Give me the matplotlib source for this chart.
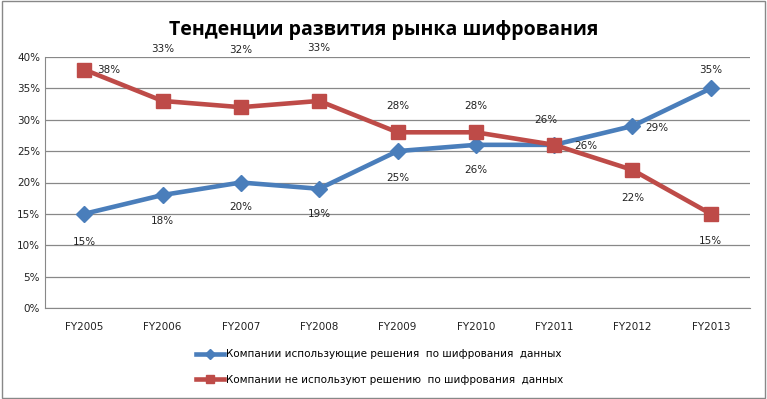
import matplotlib
matplotlib.use('Agg')
import matplotlib.pyplot as plt
from matplotlib.ticker import PercentFormatter

# Data
years = ['FY2005', 'FY2006', 'FY2007', 'FY2008', 'FY2009',
         'FY2010', 'FY2011', 'FY2012', 'FY2013']
using = [15, 18, 20, 19, 25, 26, 26, 29, 35]
not_using = [38, 33, 32, 33, 28, 28, 26, 22, 15]

label_using = 'Компании использующие решения  по шифрования  данных'
label_not = 'Компании не используют решению  по шифрования  данных'
title = 'Тенденции развития рынка шифрования'

# label offsets in pixels (dx, dy)
off_using = [(0, -28), (0, -26), (0, -24), (0, -25), (0, -27),
             (0, -25), (32, -1), (24, -2), (0, 18)]
off_not = [(25, 0), (0, 52), (0, 57), (0, 53), (0, 26),
           (0, 26), (-8, 25), (0, -28), (0, -27)]

blue = '#4A7EBB'
red = '#BE4B48'

plt.rcParams['font.family'] = ['DejaVu Sans']

fig = plt.figure(figsize=(7.67, 3.99), dpi=100)
ax = fig.add_axes([45 / 767, 1 - 308 / 399, 705 / 767, 251 / 399])

x = list(range(len(years)))
ax.plot(x, using, color=blue, lw=3.3, marker='D', ms=8,
        markeredgecolor=blue, label=label_using, zorder=3)
ax.plot(x, not_using, color=red, lw=3.3, marker='s', ms=10,
        markeredgecolor=red, label=label_not, zorder=3)

for i in x:
    ax.annotate('%d%%' % using[i], (i, using[i]), xytext=off_using[i],
                textcoords='offset pixels', ha='center', va='center',
                fontsize=7.5, color='#222222', zorder=4)
    ax.annotate('%d%%' % not_using[i], (i, not_using[i]), xytext=off_not[i],
                textcoords='offset pixels', ha='center', va='center',
                fontsize=7.5, color='#222222', zorder=4)

ax.set_xlim(-0.5, len(years) - 0.5)
ax.set_ylim(0, 40)
ax.set_yticks(range(0, 41, 5))
ax.yaxis.set_major_formatter(PercentFormatter(decimals=0))
ax.set_xticks(x)
ax.set_xticklabels(years)
ax.tick_params(axis='both', labelsize=7.5, length=0, colors='#222222')
ax.tick_params(axis='x', pad=10)
ax.grid(axis='y', color='#888888', lw=0.9)
ax.set_axisbelow(True)
for s in ['top', 'right']:
    ax.spines[s].set_visible(False)
for s in ['left', 'bottom']:
    ax.spines[s].set_color('#888888')

fig.text(0.5, 1 - 30 / 399, title, ha='center', va='center',
         fontsize=14, fontweight='bold', family=['Open Sans', 'DejaVu Sans'])

fig.legend(loc='center', bbox_to_anchor=(0.495, 1 - 367 / 399), ncol=1,
           frameon=False, fontsize=7.5, handlelength=2.6, handletextpad=0.2,
           labelspacing=1.5, markerscale=0.6)

# outer border
fig.patches.append(plt.Rectangle((0.002, 0.003), 0.995, 0.994,
                                 transform=fig.transFigure, fill=False,
                                 edgecolor='#888888', lw=1))

fig.savefig('out.png', dpi=100)
